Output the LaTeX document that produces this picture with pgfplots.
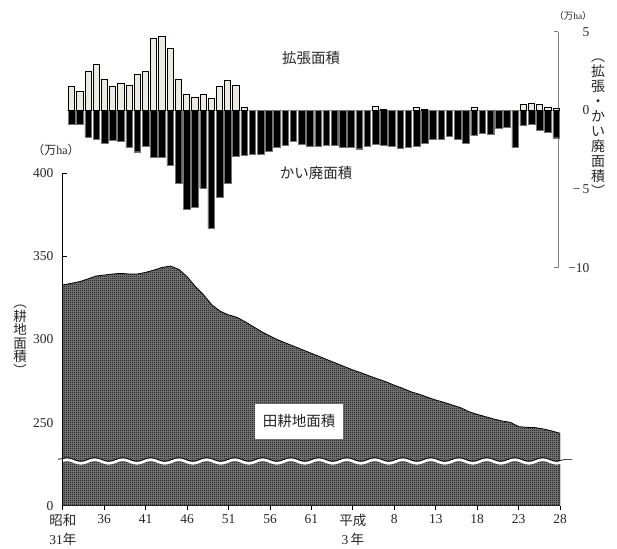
\documentclass[border=0pt]{standalone}
\usepackage{fontspec}
\setmainfont{Liberation Serif}
\newfontfamily\jp{Noto Sans CJK JP}
\usepackage{pgfplots}
\pgfplotsset{compat=1.18}
\usetikzlibrary{patterns,decorations.pathmorphing}
\pgfdeclarepatternformonly{checker}{\pgfpointorigin}{\pgfqpoint{2pt}{2pt}}{\pgfqpoint{2pt}{2pt}}{%
  \pgfpathrectangle{\pgfpointorigin}{\pgfqpoint{1pt}{1pt}}%
  \pgfpathrectangle{\pgfqpoint{1pt}{1pt}}{\pgfqpoint{1pt}{1pt}}%
  \pgfusepath{fill}}
\definecolor{lightbar}{RGB}{236,234,222}
\definecolor{axgray}{RGB}{128,128,128}
\pgfplotstableread{
year area
1956 332.8
1957 333.8
1958 334.8
1959 336.4
1960 338.2
1961 338.8
1962 339.4
1963 339.8
1964 339.4
1965 339.4
1966 340.4
1967 341.8
1968 343.4
1969 344.2
1970 342.2
1971 337.8
1972 331.8
1973 326.8
1974 320.8
1975 317.0
1976 314.8
1977 313.4
1978 310.7
1979 307.7
1980 304.7
1981 302.1
1982 299.7
1983 297.7
1984 295.7
1985 293.7
1986 291.7
1987 289.7
1988 287.7
1989 285.7
1990 283.7
1991 281.7
1992 280.0
1993 278.1
1994 276.3
1995 274.6
1996 272.5
1997 270.7
1998 268.6
1999 267.1
2000 265.3
2001 263.6
2002 262.2
2003 260.6
2004 259.0
2005 256.6
2006 255.0
2007 253.6
2008 252.2
2009 251.0
2010 250.2
2011 247.6
2012 247.2
2013 247.0
2014 246.2
2015 245.0
2016 243.6
}\areatable
\begin{document}
\begin{tikzpicture}
\useasboundingbox (0pt,0pt) rectangle (617pt,548pt);
% ---------- top: expansion / abandonment ----------
\begin{axis}[
  at={(62.8pt,280pt)}, anchor=south west, scale only axis,
  width=495.2pt, height=236.3pt,
  xmin=-1.08, xmax=59.23, ymin=-10, ymax=5,
  axis x line=none, axis y line*=right,
  axis line style={draw=axgray, line width=1pt},
  ytick={-10,-5,0,5},
  yticklabels={−10,−\,5,0,5},
  major tick length=0pt,
  extra y ticks={-10,5}, extra y tick labels={},
  extra y tick style={major tick length=4pt, tick align=inside, tick style={draw=axgray, line width=1pt}},
  yticklabel style={anchor=east, xshift=35pt, font=\fontsize{13.5}{16}\selectfont, text=black!85},
  /pgf/number format/assume math mode=true,
  clip=false,
]
\draw[gray!60, line width=0.4pt] (axis cs:-0.6,0) -- (axis cs:59.2,0);
\addplot[ybar, bar width=6.6pt, bar shift=0pt, fill=black, draw=black!55, line width=0.4pt] coordinates {
(0,-0.86) (1,-0.86) (2,-1.69) (3,-1.84) (4,-2.07) (5,-1.90) (6,-1.98) (7,-2.36) (8,-2.62) (9,-2.28)
(10,-2.97) (11,-2.97) (12,-3.48) (13,-4.62) (14,-6.27) (15,-6.16) (16,-4.94) (17,-7.47) (18,-5.51) (19,-4.60)
(20,-2.90) (21,-2.85) (22,-2.78) (23,-2.78) (24,-2.57) (25,-2.36) (26,-2.19) (27,-1.98) (28,-2.15) (29,-2.26)
(30,-2.30) (31,-2.19) (32,-2.19) (33,-2.36) (34,-2.32) (35,-2.43) (36,-2.26) (37,-2.15) (38,-2.19) (39,-2.26)
(40,-2.40) (41,-2.34) (42,-2.26) (43,-2.05) (44,-1.84) (45,-1.80) (46,-1.62) (47,-1.84) (48,-2.09) (49,-1.58)
(50,-1.46) (51,-1.48) (52,-1.14) (53,-1.05) (54,-2.34) (55,-0.95) (56,-0.89) (57,-1.27) (58,-1.41) (59,-1.73)
};
\addplot[ybar, bar width=6.2pt, bar shift=0pt, fill=lightbar, draw=black, line width=0.8pt] coordinates {
(0,1.50) (1,1.22) (2,2.49) (3,2.95) (4,1.96) (5,1.52) (6,1.73) (7,1.58) (8,2.28) (9,2.45)
(10,4.56) (11,4.73) (12,3.92) (13,2.00) (14,0.99) (15,0.82) (16,1.01) (17,0.74) (18,1.50) (19,1.88)
(20,1.60) (21,0.21) (37,0.25) (38,0.08) (42,0.17) (43,0.08) (49,0.17)
(55,0.38) (56,0.44) (57,0.38) (58,0.17) (59,0.10)
};
\end{axis}
% ---------- bottom: paddy area ----------
\begin{axis}[
  at={(62.8pt,42.2pt)}, anchor=south west, scale only axis,
  width=497.3pt, height=332.5pt,
  xmin=1956, xmax=2016, ymin=200, ymax=400,
  axis x line*=bottom, axis y line*=left,
  axis line style={black, line width=1.2pt},
  tick align=inside, major tick length=4pt,
  tick style={black, line width=0.8pt},
  x tick style={yshift=-4pt},
  xtick={1956,1961,...,2016},
  xticklabels={{{\jp 昭和}\\31{\jp 年}},36,41,46,51,56,61,{{\jp 平成}\\3\,{\jp 年}},8,13,18,23,28},
  x tick label style={font=\fontsize{13.5}{18.5}\selectfont, align=center, anchor=north, yshift=-5pt, text=black!85},
  ytick={200,250,300,350,400}, yticklabels={0,250,300,350,400},
  y tick label style={font=\fontsize{13.5}{16}\selectfont, xshift=-6pt, text=black!85},
  /pgf/number format/assume math mode=true,
]
\addplot[fill=black!50, draw=none] table[x=year,y=area] {\areatable} \closedcycle;
\addplot[pattern=checker, pattern color=black, draw=black, line width=0.8pt] table[x=year,y=area] {\areatable} \closedcycle;
\end{axis}
% axis break
\draw[white, line width=2.6pt, decorate, decoration={snake, segment length=28pt, amplitude=1.8pt}] (58pt,86.5pt) -- (572pt,86.5pt);
\draw[black, line width=0.7pt, decorate, decoration={snake, segment length=28pt, amplitude=1.8pt}] (58pt,88.6pt) -- (572pt,88.6pt);
\draw[black, line width=1.2pt] (62.8pt,78pt) -- (62.8pt,97pt);
% texts
\node[font=\jp\fontsize{14.5}{16}\selectfont, text=black!85] at (311pt,490pt) {拡張面積};
\node[font=\jp\fontsize{14.5}{16}\selectfont, text=black!85] at (316pt,375pt) {かい廃面積};
\node[fill=white, minimum width=88pt, minimum height=35pt, inner sep=0pt, font=\jp\fontsize{14.5}{16}\selectfont, text=black!85] at (299pt,126.5pt) {田耕地面積};
\node[font=\fontsize{12}{14}\selectfont, text=black!85] at (56pt,398pt) {{\jp （万}ha{\jp ）}};
\node[font=\fontsize{9.5}{11}\selectfont, text=black!85] at (573pt,532pt) {{\jp （万}ha{\jp ）}};
\node[align=center, font=\jp\fontsize{14}{15}\selectfont, text=black!85] at (598pt,420pt) {︵\\拡\\張\\・\\か\\い\\廃\\面\\積\\︶};
\node[align=center, font=\jp\fontsize{13.5}{13.5}\selectfont, text=black!85] at (20pt,207.5pt) {︵\\耕\\地\\面\\積\\︶};
\end{tikzpicture}
\end{document}
